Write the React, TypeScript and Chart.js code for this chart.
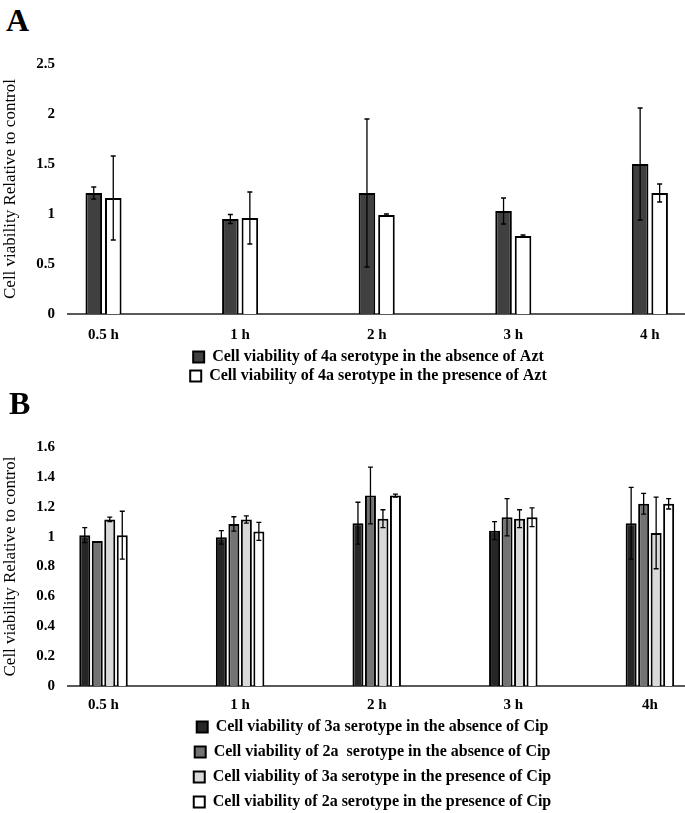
import React, { useEffect, useRef } from 'react';
import { Chart, registerables } from 'chart.js';

Chart.register(...registerables);

const FONT = "'Liberation Serif', 'Times New Roman', Times, serif";

// ---------- Panel A data ----------
const labelsA = ['0.5 h', '1 h', '2 h', '3 h', '4 h'];
const a4aAbsence = [1.21, 0.95, 1.21, 1.03, 1.5];
const a4aAbsenceErr = [0.06, 0.045, 0.74, 0.13, 0.56];
const a4aPresence = [1.16, 0.96, 0.99, 0.78, 1.21];
const a4aPresenceErr = [0.42, 0.26, 0.01, 0.01, 0.09];
const yTicksA = { max: 2.5, step: 0.5 };

// ---------- Panel B data ----------
const labelsB = ['0.5 h', '1 h', '2 h', '3 h', '4h'];
const b3aAbsence = [1.01, 0.995, 1.09, 1.04, 1.09];
const b3aAbsenceErr = [0.05, 0.045, 0.14, 0.06, 0.24];
const b2aAbsence = [0.97, 1.085, 1.275, 1.13, 1.22];
const b2aAbsenceErr = [0, 0.048, 0.19, 0.125, 0.07];
const b3aPresence = [1.115, 1.115, 1.12, 1.12, 1.025];
const b3aPresenceErr = [0.015, 0.024, 0.06, 0.06, 0.24];
const b2aPresence = [1.01, 1.035, 1.275, 1.13, 1.22];
const b2aPresenceErr = [0.16, 0.06, 0.01, 0.063, 0.035];
const yTicksB = { max: 1.6, step: 0.2 };

const X_MIN = -0.26;
const X_MAX = 4.257;

const errorBarPlugin = {
  id: 'errorBars',
  afterDatasetsDraw(chart: any) {
    const { ctx } = chart;
    const yScale = chart.scales.y;
    ctx.save();
    ctx.strokeStyle = '#000';
    ctx.lineWidth = 1.3;
    chart.data.datasets.forEach((ds: any, di: number) => {
      if (!chart.isDatasetVisible(di)) return;
      const meta = chart.getDatasetMeta(di);
      meta.data.forEach((bar: any, i: number) => {
        const e = ds.errors ? ds.errors[i] : 0;
        if (!e) return;
        const v = ds.data[i].y;
        const top = yScale.getPixelForValue(v + e);
        const bot = yScale.getPixelForValue(v - e);
        const x = bar.x;
        ctx.beginPath();
        ctx.moveTo(x, top);
        ctx.lineTo(x, bot);
        ctx.moveTo(x - 2.5, top);
        ctx.lineTo(x + 2.5, top);
        ctx.moveTo(x - 2.5, bot);
        ctx.lineTo(x + 2.5, bot);
        ctx.stroke();
      });
    });
    ctx.restore();
  },
};

type Series = { label: string; values: number[]; errors: number[]; color: string };

function buildConfig(p: {
  labels: string[];
  series: Series[];
  yMax: number;
  yStep: number;
  padTop: number;
  xTickPad: number;
  xAxisHeight: number;
  legendPad: number;
  legendShift: number;
  catPct: number;
  barPct: number;
}): any {
  const bold = { family: FONT, size: 15, weight: 'bold' as const };
  const legendFont = { family: FONT, size: 16, weight: 'bold' as const };
  const legendShiftPlugin = {
    id: 'legendShift',
    afterLayout(chart: any) {
      if (chart.legend) {
        chart.legend.left += p.legendShift;
        chart.legend.right += p.legendShift;
      }
    },
  };
  return {
    type: 'bar',
    data: {
      datasets: p.series.map((s) => ({
        label: s.label,
        data: s.values.map((v, i) => ({ x: i, y: v })),
        errors: s.errors,
        backgroundColor: s.color,
        borderColor: '#000',
        borderWidth: 2,
        categoryPercentage: p.catPct,
        barPercentage: p.barPct,
      })),
    },
    options: {
      responsive: false,
      animation: false,
      devicePixelRatio: 1,
      layout: { padding: { top: p.padTop, left: 0, right: 0, bottom: 0 } },
      plugins: {
        tooltip: { enabled: false },
        legend: {
          position: 'bottom',
          fullSize: false,
          align: 'center',
          labels: {
            boxWidth: 11,
            boxHeight: 11,
            padding: p.legendPad,
            color: '#000',
            font: legendFont,
          },
        },
      },
      scales: {
        x: {
          type: 'linear',
          min: X_MIN,
          max: X_MAX,
          bounds: 'data',
          offset: false,
          grid: { display: false, drawTicks: false },
          border: { display: true, color: '#595959', width: 2 },
          ticks: {
            color: '#000',
            font: bold,
            padding: p.xTickPad,
            autoSkip: false,
            maxRotation: 0,
            callback: (v: any) => (p.labels[v] !== undefined ? p.labels[v] : ''),
          },
          afterBuildTicks: (s: any) => {
            s.ticks = p.labels.map((_, i) => ({ value: i }));
          },
          afterFit: (s: any) => {
            s.height = p.xAxisHeight;
          },
        },
        y: {
          min: 0,
          max: p.yMax,
          grid: { display: false, drawTicks: false },
          border: { display: false },
          ticks: {
            stepSize: p.yStep,
            color: '#000',
            font: bold,
            padding: 13,
            callback: (v: any) => String(Number(Number(v).toFixed(2))),
          },
          title: {
            display: true,
            text: 'Cell viability Relative to control',
            color: '#000',
            font: { family: FONT, size: 17, weight: 'normal' },
            padding: 0,
          },
          afterFit: (s: any) => {
            s.width = 68;
          },
        },
      },
    },
    plugins: [errorBarPlugin, legendShiftPlugin],
  };
}

function ChartCanvas({ config, top, height }: { config: any; top: number; height: number }) {
  const ref = useRef<HTMLCanvasElement | null>(null);
  useEffect(() => {
    if (!ref.current) return;
    const chart = new Chart(ref.current, config);
    return () => chart.destroy();
  }, [config]);
  return (
    <canvas
      ref={ref}
      width={685}
      height={height}
      style={{ position: 'absolute', left: 0, top, width: 685, height }}
    />
  );
}

const configA = buildConfig({
  labels: labelsA,
  series: [
    { label: 'Cell viability of 4a serotype in the absence of Azt', values: a4aAbsence, errors: a4aAbsenceErr, color: '#404040' },
    { label: 'Cell viability of 4a serotype in the presence of Azt', values: a4aPresence, errors: a4aPresenceErr, color: '#ffffff' },
  ],
  yMax: yTicksA.max,
  yStep: yTicksA.step,
  padTop: 24,
  xTickPad: 12,
  xAxisHeight: 32,
  legendPad: 3,
  legendShift: -8,
  catPct: 0.2855,
  barPct: 0.85,
});

const configB = buildConfig({
  labels: labelsB,
  series: [
    { label: 'Cell viability of 3a serotype in the absence of Cip', values: b3aAbsence, errors: b3aAbsenceErr, color: '#262626' },
    { label: 'Cell viability of 2a  serotype in the absence of Cip', values: b2aAbsence, errors: b2aAbsenceErr, color: '#737373' },
    { label: 'Cell viability of 3a serotype in the presence of Cip', values: b3aPresence, errors: b3aPresenceErr, color: '#d9d9d9' },
    { label: 'Cell viability of 2a serotype in the presence of Cip', values: b2aPresence, errors: b2aPresenceErr, color: '#ffffff' },
  ],
  yMax: yTicksB.max,
  yStep: yTicksB.step,
  padTop: 34,
  xTickPad: 10,
  xAxisHeight: 24,
  legendPad: 9,
  legendShift: -4,
  catPct: 0.366,
  barPct: 0.88,
});

export default function App() {
  const letter = {
    position: 'absolute' as const,
    fontFamily: FONT,
    fontWeight: 'bold' as const,
    lineHeight: 1,
    color: '#000',
  };
  return (
    <div style={{ position: 'absolute', left: 0, top: 0, width: 685, height: 813, overflow: 'hidden', background: '#fff' }}>
      <ChartCanvas config={configA} top={40} height={354} />
      <ChartCanvas config={configB} top={413} height={407} />
      <div style={{ ...letter, left: 6, top: 4, fontSize: 32 }}>A</div>
      <div style={{ ...letter, left: 9, top: 387, fontSize: 32 }}>B</div>
    </div>
  );
}
